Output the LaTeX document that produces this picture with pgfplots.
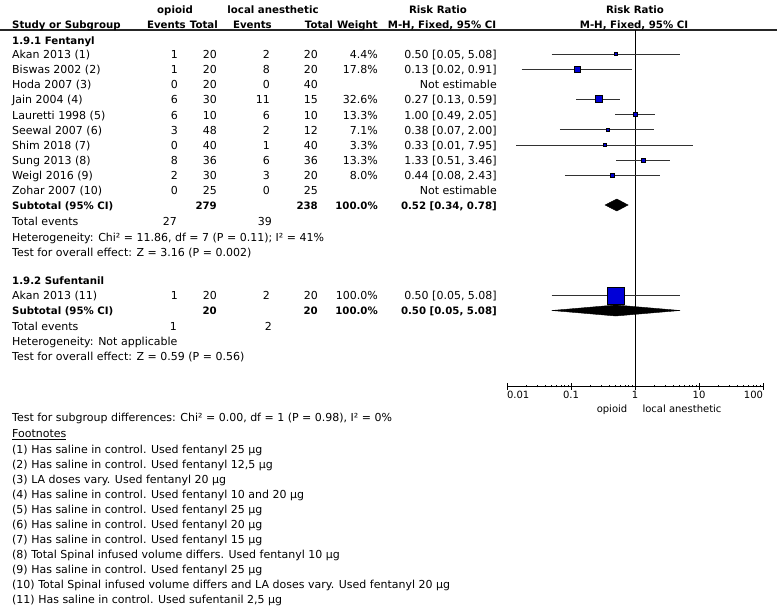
\documentclass[border=0pt]{standalone}
\usepackage{pgfplots}
\pgfplotsset{compat=1.18}
\usepackage{fontspec}
\setmainfont{DejaVu Sans}
\definecolor{sq}{RGB}{0,0,215}
\definecolor{ci}{RGB}{50,50,50}
\newcommand{\fs}{\fontsize{11}{13}\selectfont}
\newcommand{\fb}{\fontsize{10.2}{12}\selectfont\bfseries}
\newcommand{\study}[8]{%
 \node[anchor=mid west] at (12,-#1) {#2};
 \node[anchor=mid east] at (178,-#1) {#3};
 \node[anchor=mid east] at (217,-#1) {#4};
 \node[anchor=mid east] at (270,-#1) {#5};
 \node[anchor=mid east] at (318,-#1) {#6};
 \node[anchor=mid east] at (378,-#1) {#7};
 \node[anchor=mid east] at (497,-#1) {#8};}
\newcommand{\tl}[2]{\node[anchor=mid west] at (12,-#1) {#2};}
\begin{document}
\begin{tikzpicture}[x=1pt,y=1pt,every node/.style={inner sep=0pt,font=\fs}]
\path[use as bounding box] (0,0) rectangle (777,-610);
\draw[line width=1.4pt,black!85] (0,-30) -- (777,-30);
\begin{scope}[shift={(0,-2)}]
% headers
\node[anchor=mid,font=\fb] at (175,-9) {opioid};
\node[anchor=mid,font=\fb] at (273,-9) {local anesthetic};
\node[anchor=mid,font=\fb] at (438,-9) {Risk Ratio};
\node[anchor=mid,font=\fb] at (635,-9) {Risk Ratio};
\node[anchor=mid west,font=\fb] at (12,-24) {Study or Subgroup};
\node[anchor=mid east,font=\fb] at (186,-24) {Events};
\node[anchor=mid east,font=\fb] at (218,-24) {Total};
\node[anchor=mid east,font=\fb] at (272,-24) {Events};
\node[anchor=mid east,font=\fb] at (333,-24) {Total};
\node[anchor=mid east,font=\fb] at (378,-24) {Weight};
\node[anchor=mid,font=\fb] at (442,-24) {M-H, Fixed, 95\% CI};
\node[anchor=mid,font=\fb] at (634,-24) {M-H, Fixed, 95\% CI};
% subgroup 1
\node[anchor=mid west,font=\fb] at (12,-40) {1.9.1 Fentanyl};
\study{54}{Akan 2013 (1)}{1}{20}{2}{20}{4.4\%}{0.50 [0.05, 5.08]}
\study{69}{Biswas 2002 (2)}{1}{20}{8}{20}{17.8\%}{0.13 [0.02, 0.91]}
\study{84}{Hoda 2007 (3)}{0}{20}{0}{40}{}{Not estimable}
\study{99}{Jain 2004 (4)}{6}{30}{11}{15}{32.6\%}{0.27 [0.13, 0.59]}
\study{114.5}{Lauretti 1998 (5)}{6}{10}{6}{10}{13.3\%}{1.00 [0.49, 2.05]}
\study{129.5}{Seewal 2007 (6)}{3}{48}{2}{12}{7.1\%}{0.38 [0.07, 2.00]}
\study{145}{Shim 2018 (7)}{0}{40}{1}{40}{3.3\%}{0.33 [0.01, 7.95]}
\study{160}{Sung 2013 (8)}{8}{36}{6}{36}{13.3\%}{1.33 [0.51, 3.46]}
\study{175}{Weigl 2016 (9)}{2}{30}{3}{20}{8.0\%}{0.44 [0.08, 2.43]}
\study{190}{Zohar 2007 (10)}{0}{25}{0}{25}{}{Not estimable}
\begin{scope}[every node/.style={inner sep=0pt,font=\fb}]
\study{205}{Subtotal (95\% CI)}{}{279}{}{238}{100.0\%}{0.52 [0.34, 0.78]}
\end{scope}
\tl{221}{Total events}
\node[anchor=mid east] at (177,-221) {27};
\node[anchor=mid east] at (272,-221) {39};
\tl{236.5}{Heterogeneity: Chi² = 11.86, df = 7 (P = 0.11); I² = 41\%}
\tl{252}{Test for overall effect: Z = 3.16 (P = 0.002)}
% subgroup 2
\node[anchor=mid west,font=\fb] at (12,-280) {1.9.2 Sufentanil};
\study{295}{Akan 2013 (11)}{1}{20}{2}{20}{100.0\%}{0.50 [0.05, 5.08]}
\begin{scope}[every node/.style={inner sep=0pt,font=\fb}]
\study{310}{Subtotal (95\% CI)}{}{20}{}{20}{100.0\%}{0.50 [0.05, 5.08]}
\end{scope}
\tl{326}{Total events}
\node[anchor=mid east] at (177,-326) {1};
\node[anchor=mid east] at (272,-326) {2};
\tl{341}{Heterogeneity: Not applicable}
\tl{356}{Test for overall effect: Z = 0.59 (P = 0.56)}
% bottom
\node[anchor=mid,font=\fontsize{10}{12}\selectfont] at (612,-408) {opioid};
\node[anchor=mid,font=\fontsize{10}{12}\selectfont] at (682,-408) {local anesthetic};
\tl{417}{Test for subgroup differences: Chi² = 0.00, df = 1 (P = 0.98), I² = 0\%}
\tl{433}{\underline{Footnotes}}
\tl{449}{(1) Has saline in control. Used fentanyl 25 µg}
\tl{464}{(2) Has saline in control. Used fentanyl 12,5 µg}
\tl{479}{(3) LA doses vary. Used fentanyl 20 µg}
\tl{494}{(4) Has saline in control. Used fentanyl 10 and 20 µg}
\tl{509}{(5) Has saline in control. Used fentanyl 25 µg}
\tl{524}{(6) Has saline in control. Used fentanyl 20 µg}
\tl{539}{(7) Has saline in control. Used fentanyl 15 µg}
\tl{554}{(8) Total Spinal infused volume differs. Used fentanyl 10 µg}
\tl{569}{(9) Has saline in control. Used fentanyl 25 µg}
\tl{584}{(10) Total Spinal infused volume differs and LA doses vary. Used fentanyl 20 µg}
\tl{599}{(11) Has saline in control. Used sufentanil 2,5 µg}
\end{scope}
% forest plot
\begin{axis}[at={(507pt,-386pt)},anchor=south west,scale only axis,
 width=256pt,height=356pt,xmode=log,xmin=0.01,xmax=100,ymin=-386,ymax=-30,
 axis x line=bottom,axis y line=none,clip=false,
 axis line style={-,black,line width=0.8pt},
 xtick={0.01,0.1,1,10,100},xticklabels={\rlap{0.01},0.1,1,10,\llap{100}},
 minor xtick={},tick align=center,major tick length=7pt,
 tick style={black,line width=0.8pt},
 xticklabel style={font=\fontsize{10}{12}\selectfont,inner sep=2pt,yshift=0.5pt}]
\addplot[black,line width=0.8pt] coordinates {(1,-30)(1,-386)};
\addplot[ci,line width=0.8pt] coordinates {(0.05,-54)(5.08,-54)};
\addplot[ci,line width=0.8pt] coordinates {(0.017,-69)(0.91,-69)};
\addplot[ci,line width=0.8pt] coordinates {(0.12,-99)(0.59,-99)};
\addplot[ci,line width=0.8pt] coordinates {(0.49,-114.5)(2.05,-114.5)};
\addplot[ci,line width=0.8pt] coordinates {(0.067,-129.5)(2.00,-129.5)};
\addplot[ci,line width=0.8pt] coordinates {(0.014,-145)(7.95,-145)};
\addplot[ci,line width=0.8pt] coordinates {(0.51,-160)(3.46,-160)};
\addplot[ci,line width=0.8pt] coordinates {(0.08,-175)(2.43,-175)};
\addplot[ci,line width=0.8pt] coordinates {(0.05,-295.5)(5.08,-295.5)};
\addplot[only marks,mark=square*,mark options={fill=sq,draw=none},mark size=1.6] coordinates {(0.50,-54)};
\addplot[only marks,mark=square*,mark options={fill=sq,draw=none},mark size=2.8] coordinates {(0.125,-69)};
\addplot[only marks,mark=square*,mark options={fill=sq,draw=none},mark size=3.4] coordinates {(0.27,-99)};
\addplot[only marks,mark=square*,mark options={fill=sq,draw=none},mark size=2.0] coordinates {(1.00,-114.5)};
\addplot[only marks,mark=square*,mark options={fill=sq,draw=none},mark size=1.7] coordinates {(0.375,-129.5)};
\addplot[only marks,mark=square*,mark options={fill=sq,draw=none},mark size=1.4] coordinates {(0.333,-145)};
\addplot[only marks,mark=square*,mark options={fill=sq,draw=none},mark size=2.0] coordinates {(1.33,-160)};
\addplot[only marks,mark=square*,mark options={fill=sq,draw=none},mark size=1.7] coordinates {(0.44,-175)};
\addplot[only marks,mark=square*,mark options={fill=sq,draw=none},mark size=8.5] coordinates {(0.50,-296)};
\addplot[fill=black,draw=black] coordinates {(0.34,-205)(0.52,-199)(0.78,-205)(0.52,-211)} -- cycle;
\addplot[fill=black,draw=black] coordinates {(0.05,-310.5)(0.50,-305)(5.08,-310.5)(0.50,-316)} -- cycle;
\end{axis}
\end{tikzpicture}
\end{document}
